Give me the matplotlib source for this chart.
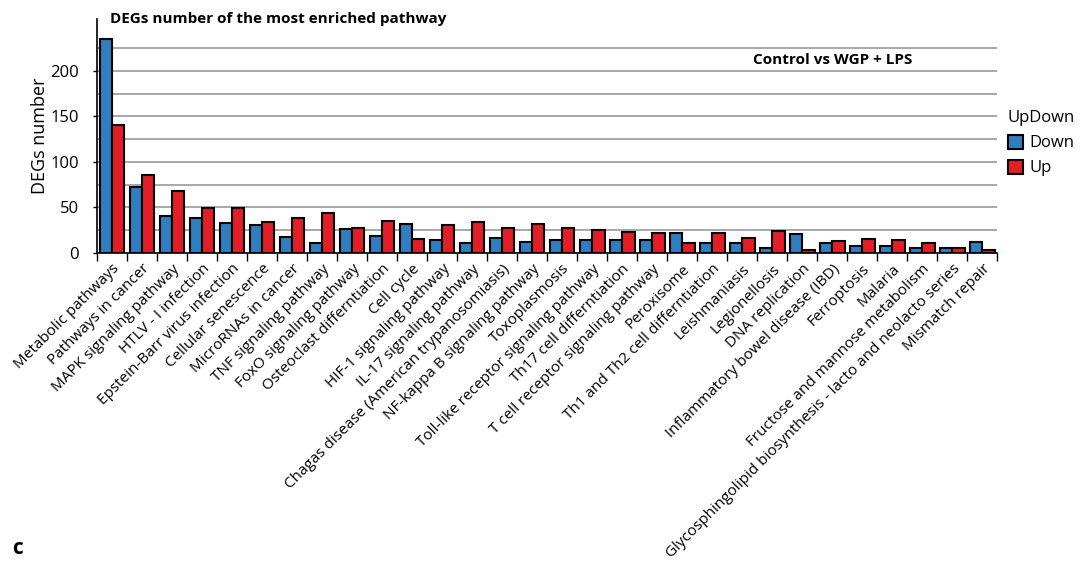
import numpy as np
import matplotlib
matplotlib.use('Agg')
import matplotlib.pyplot as plt
from matplotlib.patches import Patch

plt.rcParams['font.family'] = ['Open Sans', 'DejaVu Sans']

# pathways and DEG counts
pathways = ['Metabolic pathways', 'Pathways in cancer', 'MAPK signaling pathway',
            'HTLV - I infection', 'Epstein-Barr virus infection', 'Cellular senescence',
            'MicroRNAs in cancer', 'TNF signaling pathway', 'FoxO signaling pathway',
            'Osteoclast differntiation', 'Cell cycle', 'HIF-1 signaling pathway',
            'IL-17 signaling pathway', 'Chagas disease (American trypanosomiasis)',
            'NF-kappa B signaling pathway', 'Toxoplasmosis',
            'Toll-like receptor signaling pathway', 'Th17 cell differntiation',
            'T cell receptor signaling pathway', 'Peroxisome',
            'Th1 and Th2 cell differntiation', 'Leishmaniasis', 'Legionellosis',
            'DNA replication', 'Inflammatory bowel disease (IBD)', 'Ferroptosis',
            'Malaria', 'Fructose and mannose metabolism',
            'Glycosphingolipid biosynthesis - lacto and neolacto series',
            'Mismatch repair']
down = [235, 72, 41, 39, 33, 31, 18, 11, 26, 19, 32, 14, 11, 16, 12,
        14, 14, 14, 14, 22, 11, 11, 5, 21, 11, 8, 8, 6, 6, 12]
up = [141, 86, 68, 49, 49, 34, 38, 44, 28, 35, 15, 31, 34, 27, 32,
      27, 25, 23, 22, 11, 22, 17, 24, 3, 13, 15, 14, 11, 6, 3]

col_down = '#2F7EC0'
col_up = '#E31E26'

fig = plt.figure(figsize=(10.9, 5.61), dpi=100)
ax = fig.add_axes([0.089, 0.549, 0.826, 0.417])

x = np.arange(len(pathways))
w = 0.41
ax.bar(x - w / 2, down, width=w, color=col_down, edgecolor='black', linewidth=1.5, zorder=3)
ax.bar(x + w / 2, up, width=w, color=col_up, edgecolor='black', linewidth=1.5, zorder=3)

# grid
for g in range(25, 250, 25):
    ax.axhline(g, color='#A8A8A8', linewidth=1.4, zorder=1)

ax.set_xlim(-0.5, len(pathways) - 0.5)
ax.set_ylim(0, 257)
ax.set_yticks([0, 50, 100, 150, 200])
ax.tick_params(axis='y', labelsize=12, length=3, width=1, pad=10)

# ticks at category borders, labels at centers
ax.set_xticks(np.arange(len(pathways) + 1) - 0.5)
ax.set_xticklabels([])
ax.tick_params(axis='x', which='major', length=6, width=1, direction='out')
ax.set_xticks(x, minor=True)
ax.set_xticklabels(pathways, minor=True, rotation=45, ha='right', va='top',
                   rotation_mode='anchor', fontsize=11)
ax.tick_params(axis='x', which='minor', length=0, pad=6)

ax.spines['top'].set_visible(False)
ax.spines['right'].set_visible(False)
ax.spines['left'].set_linewidth(1.2)
ax.spines['bottom'].set_linewidth(1.2)

ax.set_ylabel('DEGs number', fontsize=13, labelpad=1)

fig.text(0.101, 0.967, 'DEGs number of the most enriched pathway', fontsize=11,
         fontweight='bold', ha='left', va='center')
ax.text(0.817, 0.825, 'Control vs WGP + LPS', transform=ax.transAxes, fontsize=11,
        fontweight='bold', ha='center', va='center')
fig.text(0.011, 0.022, 'c', fontsize=15, fontweight='bold', ha='left', va='center')

handles = [Patch(facecolor=col_down, edgecolor='black', linewidth=1.5, label='Down'),
           Patch(facecolor=col_up, edgecolor='black', linewidth=1.5, label='Up')]
leg = fig.legend(handles=handles, title='UpDown', loc='upper left',
                 bbox_to_anchor=(0.911, 0.83), frameon=False, fontsize=12,
                 title_fontsize=12, handlelength=0.9, handleheight=0.9,
                 handletextpad=0.4, labelspacing=0.5)
leg._legend_box.align = 'left'

fig.savefig('out.png', dpi=100)
